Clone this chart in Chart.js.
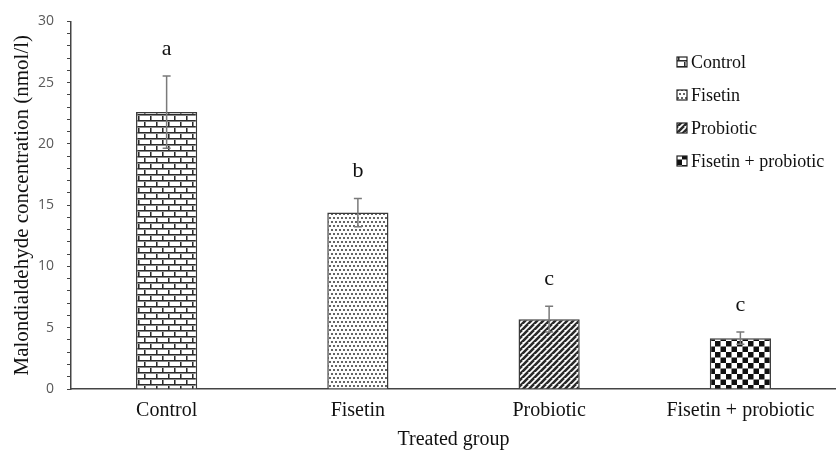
<!DOCTYPE html>
<html>
<head>
<meta charset="utf-8">
<script src="https://cdn.jsdelivr.net/npm/chart.js@4"></script>
<style>
  html, body { margin: 0; padding: 0; background: #fff; }
  #wrap { width: 836px; height: 452px; }
</style>
</head>
<body>
<div id="wrap"><canvas id="mdaChart" width="836" height="452"></canvas></div>
<script>
// ==== Chart data ====
const groups = ['Control', 'Fisetin', 'Probiotic', 'Fisetin + probiotic'];
const mdaMeans = [22.6, 14.4, 5.7, 4.15];   // nmol/l
const mdaErrors = [2.95, 1.15, 1.05, 0.5];  // +/- error
const sigLetters = ['a', 'b', 'c', 'c'];
const yTickValues = [0, 5, 10, 15, 20, 25, 30];

const serif = '"Liberation Serif", "Times New Roman", serif';

// ==== Fill patterns ====
function makeTile(w, h, draw) {
    const c = document.createElement('canvas');
    c.width = w; c.height = h;
    const g = c.getContext('2d');
    g.fillStyle = '#fff';
    g.fillRect(0, 0, w, h);
    draw(g);
    return c;
}

const brickTile = makeTile(12, 12, g => {
    g.fillStyle = '#2a2a2a';
    g.fillRect(0, 0, 12, 1);
    g.fillRect(0, 6, 12, 1);
    g.fillRect(0, 0, 1, 6);
    g.fillRect(6, 6, 1, 6);
    g.fillStyle = '#8a8a8a';
    g.fillRect(0, 1, 12, 1);
    g.fillRect(0, 7, 12, 1);
    g.fillRect(1, 1, 1, 5);
    g.fillRect(7, 7, 1, 5);
});
const dotTile = makeTile(8, 8, g => {
    g.fillStyle = '#666';
    g.fillRect(1, 1, 2, 2);
    g.fillRect(5, 1, 2, 2);
    g.fillRect(3, 5, 2, 2);
    g.fillRect(7, 5, 1, 2);
    g.fillRect(0, 5, 1, 2);
});
const hatchTile = makeTile(6, 6, g => {
    g.strokeStyle = '#2a2a2a';
    g.lineWidth = 2.6;
    g.beginPath();
    for (let k = -6; k <= 12; k += 6) {
        g.moveTo(k - 6, 12);
        g.lineTo(k + 6, 0);
    }
    g.stroke();
});
const checkTile = makeTile(11, 11, g => {
    g.fillStyle = '#111';
    g.fillRect(0, 0, 5.5, 5.5);
    g.fillRect(5.5, 5.5, 5.5, 5.5);
});

const ctx = document.getElementById('mdaChart').getContext('2d');
const patterns = [brickTile, dotTile, hatchTile, checkTile].map(t => ctx.createPattern(t, 'repeat'));

// ==== Error bars + letters + legend ====
const extrasPlugin = {
    id: 'extras',
    afterDatasetsDraw(chart) {
        const c = chart.ctx;
        const x = chart.scales.x, y = chart.scales.y;
        c.save();
        c.strokeStyle = '#7a7a7a';
        c.lineWidth = 1.5;
        mdaMeans.forEach((m, i) => {
            const px = x.getPixelForValue(i);
            const top = y.getPixelForValue(m + mdaErrors[i]);
            const bot = y.getPixelForValue(m - mdaErrors[i]);
            c.beginPath();
            c.moveTo(px, top); c.lineTo(px, bot);
            c.moveTo(px - 4, top); c.lineTo(px + 4, top);
            c.moveTo(px - 4, bot); c.lineTo(px + 4, bot);
            c.stroke();

            c.fillStyle = '#111';
            c.font = '22px ' + serif;
            c.textAlign = 'center';
            c.textBaseline = 'middle';
            c.fillText(sigLetters[i], px, top - 27);
        });

        // legend
        c.font = '18px ' + serif;
        c.textAlign = 'left';
        c.textBaseline = 'middle';
        groups.forEach((g, i) => {
            const ly = 62 + i * 33;
            c.fillStyle = patterns[i];
            c.fillRect(677, ly - 5, 10, 10);
            c.strokeStyle = '#222';
            c.lineWidth = 1.2;
            c.strokeRect(677, ly - 5, 10, 10);
            c.fillStyle = '#111';
            c.fillText(g, 691, ly + 1);
        });
        c.restore();
    }
};

new Chart(ctx, {
    type: 'bar',
    data: {
        labels: groups,
        datasets: [{
            data: mdaMeans,
            backgroundColor: patterns,
            borderColor: '#3a3a3a',
            borderWidth: 1.5,
            barPercentage: 0.32,
            categoryPercentage: 1
        }]
    },
    options: {
        responsive: false,
        animation: false,
        layout: { padding: { top: 16, right: 0, bottom: 0, left: 0 } },
        plugins: { legend: { display: false }, tooltip: { enabled: false } },
        scales: {
            x: {
                grid: { display: false },
                border: { color: '#444', width: 1.5 },
                ticks: { color: '#111', font: { family: serif, size: 20 }, padding: 2 },
                title: { display: true, text: 'Treated group', color: '#111', font: { family: serif, size: 20 }, padding: { top: 4, bottom: 0 } },
                afterFit: s => { s.height = 63; }
            },
            y: {
                min: 0, max: 30,
                grid: { display: true, drawOnChartArea: false, tickLength: 4, color: '#444' },
                border: { color: '#444', width: 1.5 },
                ticks: {
                    stepSize: 1,
                    autoSkip: false,
                    color: '#595959',
                    font: { family: '"Open Sans", sans-serif', size: 14 },
                    padding: 13,
                    callback: v => yTickValues.includes(v) ? String(v) : ''
                },
                title: { display: true, text: 'Malondialdehyde concentration (nmol/l)', color: '#111', font: { family: serif, size: 21 }, padding: { top: 10, bottom: 4 } },
                afterFit: s => { s.width = 71; }
            }
        }
    },
    plugins: [extrasPlugin]
});
</script>
</body>
</html>
